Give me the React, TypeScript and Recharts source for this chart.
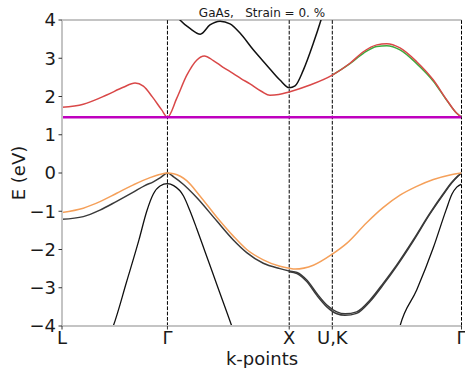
import { Label, Line, LineChart, ReferenceLine, XAxis, YAxis } from "recharts";

// high-symmetry points, path length in units of 2π/a
const kPoints = [0, 0.866, 1.866, 2.22, 3.281];
const kLabels = ["L", "Γ", "X", "U,K", "Γ"];
const energyTicks = [-4, -3, -2, -1, 0, 1, 2, 3, 4];
const gapEnergy = 1.46;

// [k, E] pairs
const cbLowest: [number, number][] = [
  [0, 1.72], [0.175, 1.8], [0.367, 2.04], [0.503, 2.24], [0.6, 2.35], [0.668, 2.27],
  [0.742, 1.99], [0.819, 1.65], [0.866, 1.46], [0.942, 1.95], [1.024, 2.55], [1.106, 2.95],
  [1.169, 3.06], [1.243, 2.94], [1.32, 2.77], [1.407, 2.6], [1.47, 2.47], [1.544, 2.33],
  [1.64, 2.13], [1.708, 2.03], [1.78, 2.05], [1.866, 2.12], [2.037, 2.3], [2.22, 2.56],
  [2.365, 2.87], [2.475, 3.17], [2.585, 3.35], [2.667, 3.38], [2.776, 3.27], [2.913, 2.91],
  [3.05, 2.43], [3.16, 1.91], [3.242, 1.56], [3.281, 1.46],
];

const cbSecond: [number, number][] = [
  [2.22, 2.56], [2.365, 2.86], [2.475, 3.13], [2.585, 3.31], [2.667, 3.33], [2.776, 3.22],
  [2.913, 2.86], [3.05, 2.4], [3.16, 1.9], [3.242, 1.56], [3.281, 1.46],
];

const cbUpper: [number, number][] = [
  [0.93, 4.15], [0.969, 4.0], [1.051, 3.78], [1.136, 3.63], [1.215, 3.87], [1.298, 3.97],
  [1.38, 3.9], [1.462, 3.66], [1.571, 3.22], [1.681, 2.82], [1.79, 2.43], [1.866, 2.23],
  [1.914, 2.28], [1.982, 2.69], [2.064, 3.39], [2.127, 4.0], [2.16, 4.35],
];

const vbHeavy: [number, number][] = [
  [0, -1.03], [0.175, -0.92], [0.312, -0.75], [0.449, -0.53], [0.586, -0.31], [0.723, -0.12],
  [0.8, -0.04], [0.866, 0], [0.917, -0.02], [1.024, -0.2], [1.133, -0.6], [1.27, -1.15],
  [1.407, -1.65], [1.517, -2.0], [1.653, -2.27], [1.79, -2.44], [1.866, -2.49], [1.914, -2.51],
  [2.064, -2.41], [2.22, -2.12], [2.338, -1.84], [2.502, -1.3], [2.639, -0.9], [2.776, -0.58],
  [2.913, -0.35], [3.05, -0.17], [3.187, -0.05], [3.281, 0],
];

const vbLight: [number, number][] = [
  [0, -1.21], [0.175, -1.14], [0.312, -0.97], [0.449, -0.74], [0.586, -0.5], [0.68, -0.33],
  [0.75, -0.23], [0.805, -0.13], [0.866, 0], [0.917, -0.1], [0.998, -0.3], [1.106, -0.64],
  [1.27, -1.25], [1.407, -1.75], [1.517, -2.08], [1.653, -2.36], [1.79, -2.5], [1.866, -2.56],
  [1.93, -2.6], [2.01, -2.8], [2.093, -3.15], [2.175, -3.45], [2.257, -3.63], [2.325, -3.68],
  [2.42, -3.63], [2.53, -3.32], [2.639, -2.88], [2.748, -2.41], [2.885, -1.75], [3.022, -1.05],
  [3.13, -0.55], [3.2, -0.25], [3.25, -0.08], [3.281, 0],
];

const vbLightPair: [number, number][] = [
  [1.866, -2.58], [1.93, -2.63], [2.01, -2.84], [2.093, -3.2], [2.175, -3.5], [2.257, -3.68],
  [2.325, -3.72], [2.42, -3.67], [2.53, -3.36], [2.639, -2.92], [2.748, -2.44], [2.885, -1.78],
  [3.022, -1.07], [3.13, -0.57], [3.2, -0.26], [3.25, -0.09], [3.281, 0],
];

const vbSplitOff: [number, number][] = [
  [0.39, -4.25], [0.421, -4.0], [0.53, -2.85], [0.632, -1.75], [0.696, -1.0], [0.75, -0.55],
  [0.805, -0.34], [0.866, -0.28], [0.917, -0.33], [0.998, -0.6], [1.05, -0.98], [1.106, -1.45],
  [1.174, -2.05], [1.281, -3.0], [1.394, -4.0], [1.421, -4.25],
];

const vbSplitOffEnd: [number, number][] = [
  [2.76, -4.2], [2.776, -4.0], [2.913, -3.06], [3.05, -1.95], [3.154, -0.97], [3.203, -0.55],
  [3.242, -0.37], [3.281, -0.29],
];

const toRows = (pts: [number, number][]) => pts.map(([k, e]) => ({ k, e }));
const kEnd = kPoints[kPoints.length - 1];

const font = "'DejaVu Sans', sans-serif";
const tickStyle = { fill: "#1a1a1a", fontSize: 18, fontFamily: font };

const fmtE = (v: number) => (v < 0 ? `\u2212${Math.abs(v)}` : String(v));
const fmtK = (v: number) => kLabels[kPoints.indexOf(v)] ?? "";

const bands = [
  { id: "cbUpper", pts: cbUpper, color: "#111111", width: 1.5 },
  { id: "vbSplitOff", pts: vbSplitOff, color: "#111111", width: 1.3 },
  { id: "vbSplitOffEnd", pts: vbSplitOffEnd, color: "#111111", width: 1.3 },
  { id: "vbLightPair", pts: vbLightPair, color: "#3a3a3a", width: 1.4 },
  { id: "vbLight", pts: vbLight, color: "#3a3a3a", width: 1.5 },
  { id: "vbHeavy", pts: vbHeavy, color: "#f5a05a", width: 1.5 },
  { id: "cbSecond", pts: cbSecond, color: "#3daa3d", width: 1.5 },
  { id: "cbLowest", pts: cbLowest, color: "#d94848", width: 1.5 },
];

export default function App() {
  return (
    <div style={{ position: "absolute", left: 0, top: 0, fontFamily: font }}>
      <LineChart width={465} height={368} margin={{ top: 20, right: 3.5, bottom: 0, left: 0 }}>
        <text
          x={262}
          y={16.5}
          textAnchor="middle"
          fontSize={12}
          fontFamily={font}
          fill="#1a1a1a"
          style={{ whiteSpace: "pre" }}
        >
          GaAs,   Strain = 0. %
        </text>
        <XAxis
          type="number"
          dataKey="k"
          domain={[0, kEnd]}
          ticks={kPoints}
          tickFormatter={fmtK}
          allowDataOverflow
          height={42}
          tick={tickStyle}
          tickSize={3.5}
          tickMargin={2.2}
          tickLine={{ stroke: "#333" }}
          axisLine={{ stroke: "#c4c4c4", strokeWidth: 2 }}
          interval={0}
        >
          <Label
            content={() => (
              <text x={262} y={365} textAnchor="middle" fontSize={18} fontFamily={font} fill="#1a1a1a">
                k-points
              </text>
            )}
          />
        </XAxis>
        <YAxis
          type="number"
          domain={[-4, 4]}
          ticks={energyTicks}
          tickFormatter={fmtE}
          allowDataOverflow
          width={62}
          tick={tickStyle}
          tickSize={3.5}
          tickMargin={2.5}
          tickLine={{ stroke: "#333" }}
          axisLine={{ stroke: "#c4c4c4", strokeWidth: 2 }}
          interval={0}
        >
          <Label
            content={() => (
              <text
                x={25}
                y={173}
                transform="rotate(-90 25 173)"
                textAnchor="middle"
                fontSize={18}
                fontFamily={font}
                fill="#1a1a1a"
              >
                E (eV)
              </text>
            )}
          />
        </YAxis>
        <ReferenceLine y={4} stroke="#c4c4c4" strokeWidth={2} />
        {kPoints.map((k) => (
          <ReferenceLine key={`v${k}`} x={k} stroke="#000" strokeWidth={1} strokeDasharray="3.7 1.6" />
        ))}
        {bands.map((b) => (
          <Line
            key={b.id}
            data={toRows(b.pts)}
            dataKey="e"
            type="monotone"
            stroke={b.color}
            strokeWidth={b.width}
            dot={false}
            activeDot={false}
            isAnimationActive={false}
          />
        ))}
        <Line
          data={toRows([[0, gapEnergy], [kEnd, gapEnergy]])}
          dataKey="e"
          type="linear"
          stroke="#bf00bf"
          strokeWidth={2.5}
          dot={false}
          activeDot={false}
          isAnimationActive={false}
        />
      </LineChart>
    </div>
  );
}
